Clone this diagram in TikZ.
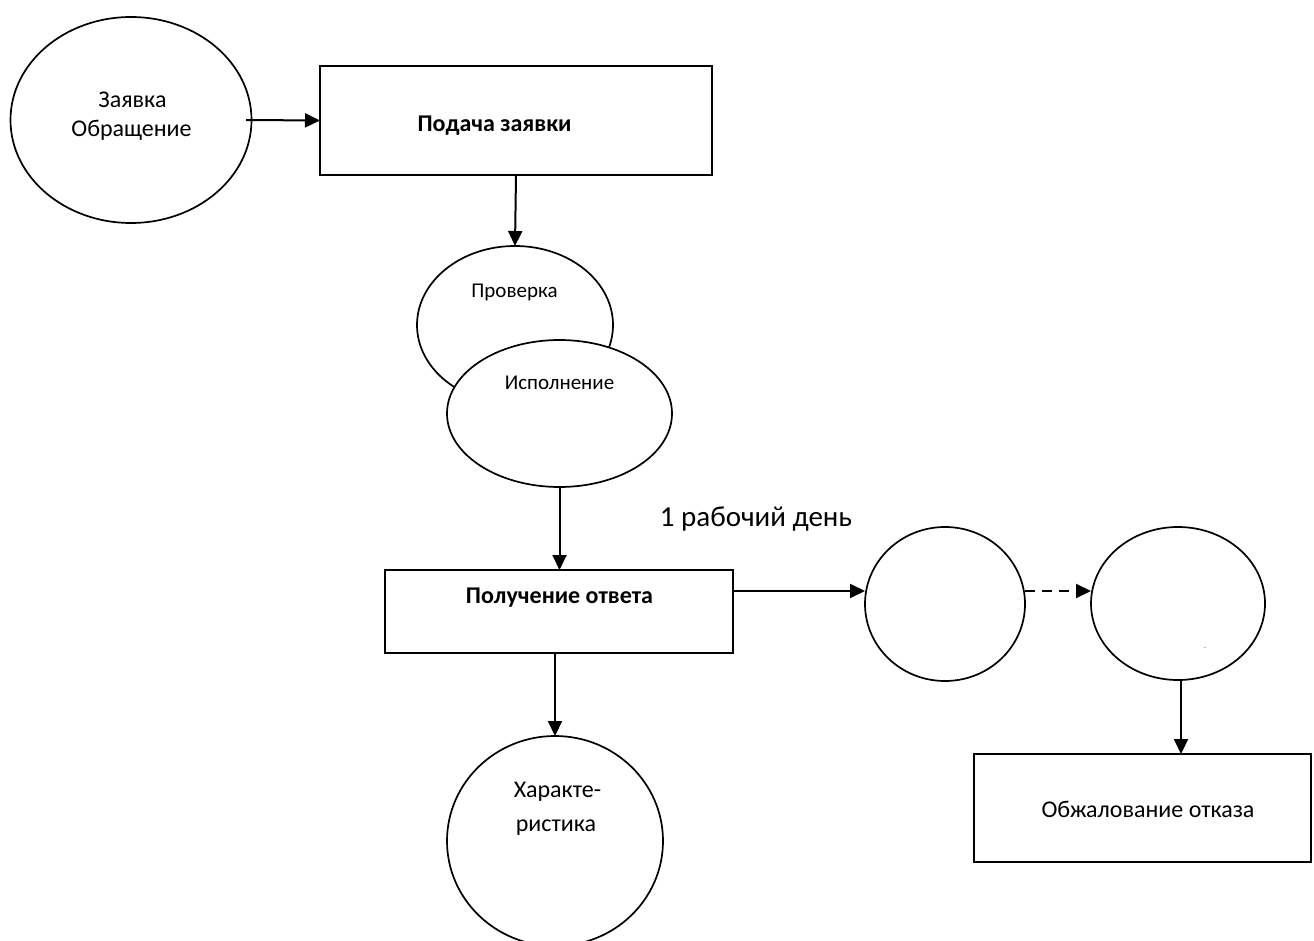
\documentclass[tikz,border=0pt]{standalone}
\usepackage{fontspec}
\setmainfont{Carlito}
\usetikzlibrary{shapes.geometric,arrows.meta}
\tikzset{
  shp/.style={draw, line width=1.7pt, fill=white, inner sep=0pt, outer sep=0pt},
  ell/.style={shp, ellipse},
  box/.style={shp, rectangle},
  conn/.style={line width=2pt, -{Triangle[length=15pt,width=14pt]}},
  dconn/.style={conn, dash pattern=on 10pt off 7pt},
  txt/.style={inner sep=0pt, anchor=base, font=\fontsize{24}{29}\selectfont},
  stxt/.style={txt, font=\fontsize{21}{25}\selectfont},
  btxt/.style={txt, font=\fontsize{24}{29}\selectfont\bfseries},
}
\begin{document}
\begin{tikzpicture}[x=1pt,y=-1pt]
\useasboundingbox (0,0) rectangle (1314,941);
\fill[white] (0,0) rectangle (1314,941);
% shapes
\node[ell, minimum width=241pt, minimum height=206pt] (e1) at (131,120) {};
\node[box, minimum width=392pt, minimum height=109pt] (b1) at (516,120.5) {};
\node[ell, minimum width=196pt, minimum height=158pt] (e2) at (515,325) {};
\node[ell, minimum width=225pt, minimum height=147pt] (e3) at (559.5,413.5) {};
\node[box, minimum width=348pt, minimum height=83pt] (b2) at (559,611.5) {};
\node[ell, minimum width=160pt, minimum height=154pt] (c1) at (945,604) {};
\node[ell, minimum width=174pt, minimum height=153pt] (c2) at (1178,603.5) {};
\node[box, minimum width=337pt, minimum height=108pt] (b3) at (1142.5,808) {};
\node[ell, minimum width=216pt, minimum height=210pt] (e4) at (555,841) {};
% texts
\node[txt] (t1a) at (132.5,108) {Заявка};
\node[txt] (t1b) at (131.5,137) {Обращение};
\node[btxt] (t2) at (494.5,132) {Подача заявки};
\node[stxt] (t3) at (514.5,298) {Проверка};
\node[stxt] (t4) at (559.5,389) {Исполнение};
\node[btxt] (t5) at (559.5,603) {Получение ответа};
\node[txt, font=\fontsize{29}{34}\selectfont] (t6) at (756,526) {1 рабочий день};
\node[txt] (t7a) at (557.5,797) {Характе-};
\node[txt] (t7b) at (556,831) {ристика};
\node[txt] (t8) at (1148,817) {Обжалование отказа};
\node[inner sep=0pt, font=\fontsize{6}{6}\selectfont] (t9) at (1205,649) {-};
% connectors
\coordinate (a1) at (246,120);
\draw[conn] (a1) -- (b1.west);
\draw[conn] (b1.south) -- (e2.north);
\draw[conn] (e3.south) -- (b2.north -| e3.south);
\coordinate (r1) at (b2.east |- 0,591);
\draw[conn] (r1) -- (c1.west |- r1);
\coordinate (r2) at (c1.east |- 0,591);
\draw[dconn] (r2) -- (c2.west |- r2);
\coordinate (d1) at (1181,680);
\draw[conn] (d1) -- (b3.north -| d1);
\coordinate (d2) at (555,653);
\draw[conn] (d2) -- (e4.north);
\end{tikzpicture}
\end{document}
